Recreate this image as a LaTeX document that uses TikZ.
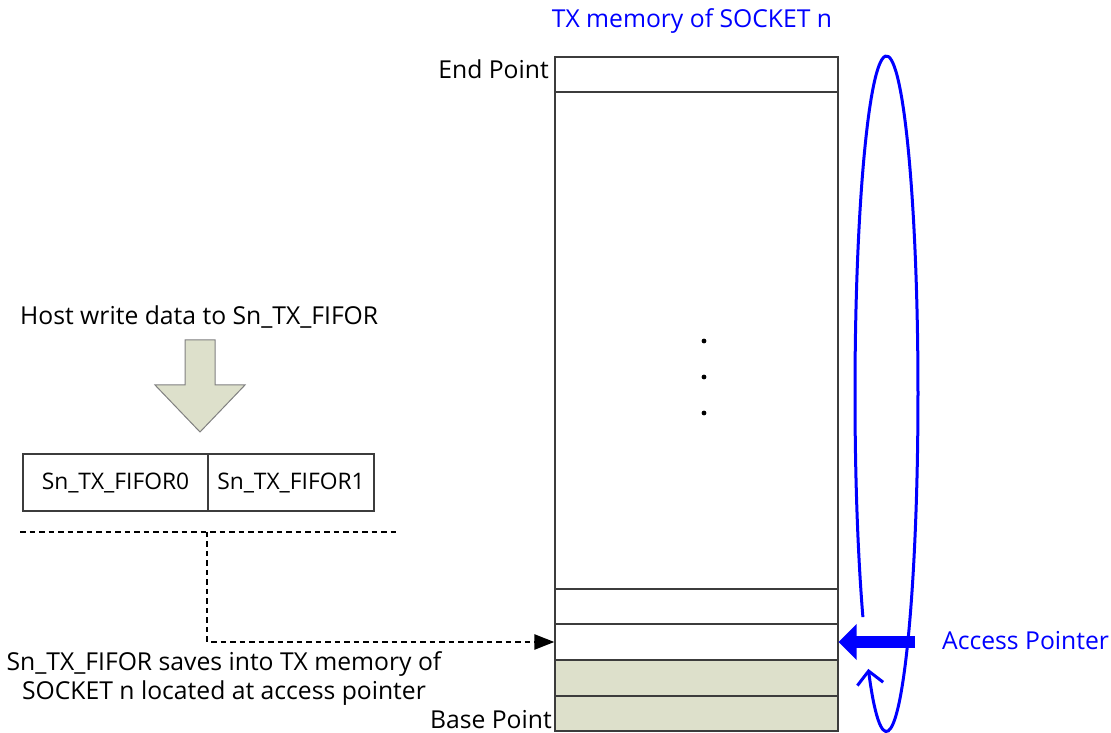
\documentclass[tikz,border=0pt]{standalone}
\usepackage{fontspec}
\setmainfont{Open Sans}
\usetikzlibrary{arrows.meta}
\definecolor{olivefill}{RGB}{221,224,203}
\definecolor{boxline}{RGB}{60,60,60}
\definecolor{pblue}{RGB}{0,0,255}
\begin{document}
\begin{tikzpicture}[x=1pt,y=1pt,
  every node/.style={font=\fontsize{24.7}{29}\selectfont},
  memrow/.style={draw=boxline, line width=1.3pt, inner sep=0pt, minimum width=283pt},
  fifobox/.style={draw=boxline, line width=1.3pt, inner sep=0pt, minimum height=57pt, font=\fontsize{22.8}{27}\selectfont},
  dashline/.style={line width=2.6pt, dash pattern=on 5.5pt off 4pt},
  loopline/.style={draw=pblue, line width=3pt}]
\useasboundingbox (0,0) rectangle (1111,733);
% memory column
\node[memrow, minimum height=35pt] (end) at (696.5,658.5) {};
\node[memrow, minimum height=497pt] (big) at (696.5,392.5) {};
\node[memrow, minimum height=35pt] (r3) at (696.5,126.5) {};
\node[memrow, minimum height=36pt] (acc) at (696.5,91) {};
\node[memrow, minimum height=36pt, fill=olivefill] (b1) at (696.5,55) {};
\node[memrow, minimum height=35pt, fill=olivefill] (b2) at (696.5,19.5) {};
\fill (704,392) circle (2.4pt) (704,356) circle (2.4pt) (704,320) circle (2.4pt);
% labels
\node[anchor=base east, inner sep=0pt] (endlbl) at (549,654) {End Point};
\node[anchor=base east, inner sep=0pt] (baselbl) at (552,4) {Base Point};
\node[anchor=base, inner sep=0pt, text=pblue] (title) at (692,705) {TX memory of SOCKET n};
\node[anchor=base west, inner sep=0pt, text=pblue] (aplbl) at (942,83) {Access Pointer};
% loop ellipse arc
\draw[loopline, -{Straight Barb[length=13pt,width=26pt,line width=3pt]}]
  (862.9,115.9) coordinate (loopstart)
  arc[start angle=221.5, end angle=-125.3, x radius=31.5pt, y radius=337.5pt];
% access pointer arrow
\coordinate (apstart) at (915,91);
\draw[pblue, line width=12pt, -{Triangle[length=18pt,width=35pt]}] (apstart) -- (acc.east);
% host write
\node[anchor=base west, inner sep=0pt] (host) at (20,408) {Host write data to Sn\_TX\_FIFOR};
\draw[fill=olivefill, draw=gray, line width=1pt]
  (185,393) -- (215,393) -- (215,348) -- (245,348) -- (200,301) -- (155,348) -- (185,348) -- cycle;
% fifo boxes
\node[fifobox, minimum width=185pt] (f0) at (115.5,250.5) {Sn\_TX\_FIFOR0};
\node[fifobox, minimum width=166pt] (f1) at (291,250.5) {Sn\_TX\_FIFOR1};
% dashed connectors
\coordinate (dl) at (20,201);
\coordinate (dr) at (397,201);
\coordinate (dm) at (207,201);
\coordinate (dc) at (207,91);
\draw[dashline] (dl) -- (dr);
\draw[dashline, -{Triangle[length=20pt,width=15pt]}] (dm) -- (dc) -- (acc.west);
\node[align=center, inner sep=0pt] (saves) at (224,54) {Sn\_TX\_FIFOR saves into TX memory of\\SOCKET n located at access pointer};
\end{tikzpicture}
\end{document}
